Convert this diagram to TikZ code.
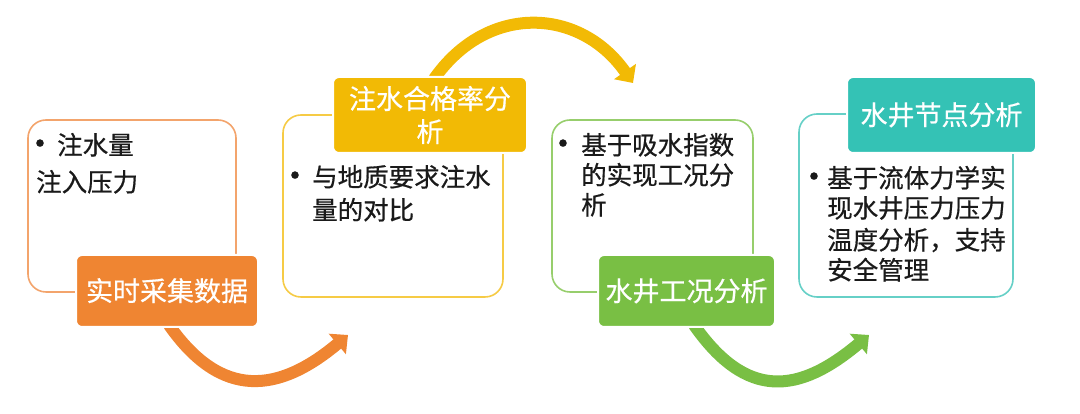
\documentclass[tikz,border=0pt]{standalone}
\usepackage{fontspec}
\setmainfont{Noto Sans CJK SC}[FakeBold=0.6]
\usetikzlibrary{arrows.meta,backgrounds}
\definecolor{cOr}{HTML}{EF8532}
\definecolor{cOrL}{HTML}{F3A46C}
\definecolor{cYe}{HTML}{F2BA05}
\definecolor{cYeL}{HTML}{F6CB45}
\definecolor{cGr}{HTML}{79BF44}
\definecolor{cGrL}{HTML}{97CE6C}
\definecolor{cTe}{HTML}{34C2B5}
\definecolor{cTeL}{HTML}{66D0C7}
\definecolor{ink}{HTML}{1A1A1A}
\newcommand{\bodyfont}{\fontsize{25.5}{30}\selectfont}
\newcommand{\dotfont}{\fontsize{34}{34}\selectfont}
\newcommand{\labfont}{\fontsize{27}{33}\selectfont}
\begin{document}
\begin{tikzpicture}[x=1pt,y=1pt,
 panel/.style={draw=#1, line width=1.6pt, rounded corners=18pt, fill=white, inner sep=0pt},
 tag/.style={fill=#1, draw=white, line width=2pt, rounded corners=6pt, text=white, font=\labfont, inner sep=0pt, align=center},
 oneline/.style={text height=23.5pt, text depth=3.5pt},
 txt/.style={anchor=base west, inner sep=0pt, font=\bodyfont, text=ink},
 dot/.style={anchor=base, inner sep=0pt, font=\dotfont, text=ink},
 flow/.style={draw=#1, line width=12pt, -{Triangle[length=14pt,width=26pt]}},
]
\useasboundingbox (0,0) rectangle (1080,414);

% panels
\node[panel=cOrL, minimum width=208pt, minimum height=172pt] (box1) at (132,208) {};
\node[panel=cYeL, minimum width=220pt, minimum height=182pt] (box2) at (393,208) {};
\node[panel=cGrL, minimum width=201pt, minimum height=172pt] (box3) at (652.5,208) {};
\node[panel=cTeL, minimum width=214pt, minimum height=183pt] (box4) at (906,208.5) {};

% labels
\node[tag=cOr, oneline, minimum width=182pt, minimum height=72pt] (lab1) at (167,123) {实时采集数据};
\node[tag=cYe, minimum width=194pt, minimum height=76pt] (lab2) at (430,299) {注水合格率分\\析};
\node[tag=cGr, oneline, minimum width=177pt, minimum height=72pt] (lab3) at (686.5,123) {水井工况分析};
\node[tag=cTe, oneline, minimum width=189pt, minimum height=76pt] (lab4) at (941.5,299) {水井节点分析};

% texts box 1
\node[dot] (d1) at (40,258) {•};
\node[txt] (t1a) at (57,259.5) {注水量};
\node[txt] (t1b) at (36,222.5) {注入压力};
% box 2
\node[dot] (d2) at (295,226) {•};
\node[txt] (t2a) at (312,227.5) {与地质要求注水};
\node[txt] (t2b) at (312,194.5) {量的对比};
% box 3
\node[dot] (d3) at (563,258) {•};
\node[txt] (t3a) at (581,259.5) {基于吸水指数};
\node[txt] (t3b) at (581,229.5) {的实现工况分};
\node[txt] (t3c) at (581,199.5) {析};
% box 4
\node[dot] (d4) at (814,225) {•};
\node[txt] (t4a) at (827,226.5) {基于流体力学实};
\node[txt] (t4b) at (827,196.5) {现水井压力压力};
\node[txt] (t4c) at (827,164.5) {温度分析，支持};
\node[txt] (t4d) at (827,134.5) {安全管理};

% arrows
\coordinate (e1) at (348,79);
\coordinate (e2) at (633,331);
\coordinate (e3) at (869,79);
\begin{scope}[on background layer]
\draw[flow=cOr] ([xshift=2pt,yshift=3pt]lab1.south) to[out=-55,in=220,looseness=1.3] (e1);
\draw[flow=cYe] ([xshift=4pt,yshift=-3pt]lab2.north) to[out=55,in=125,looseness=1.19] (e2);
\draw[flow=cGr] ([xshift=7.5pt,yshift=3pt]lab3.south) to[out=-55,in=220,looseness=1.34] (e3);
\end{scope}
\end{tikzpicture}
\end{document}
